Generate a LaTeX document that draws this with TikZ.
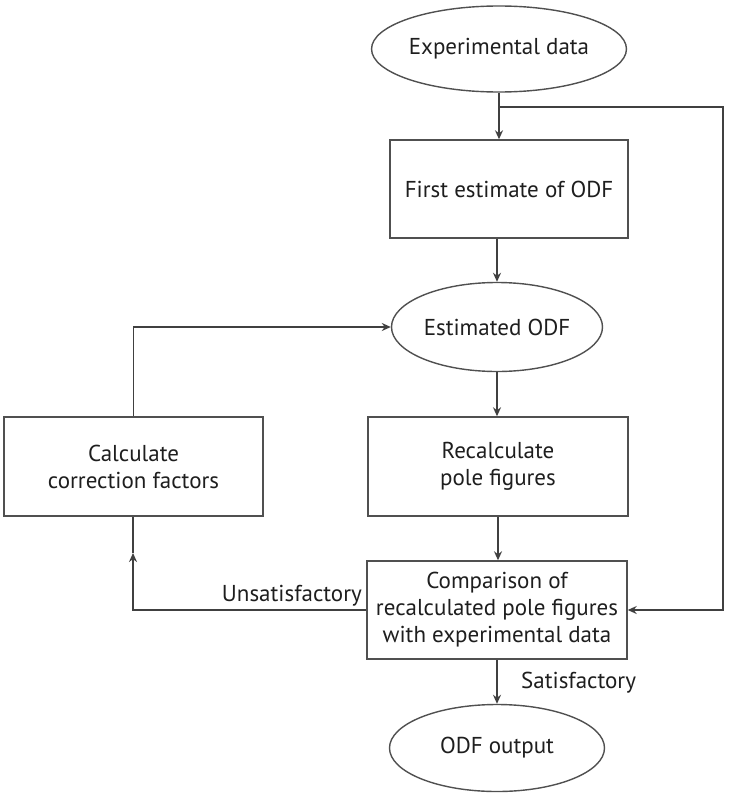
\documentclass[tikz,border=0pt]{standalone}
\usepackage{fontspec}
\setmainfont{PT Sans}
\usetikzlibrary{shapes.geometric,arrows.meta}
\definecolor{txt}{HTML}{1E1E1E}
\definecolor{ln}{HTML}{404040}
\definecolor{bx}{HTML}{505050}
\begin{document}
\begin{tikzpicture}[x=1pt,y=-1pt,
  font=\fontsize{23}{27}\selectfont, text=txt,
  oval/.style={ellipse,draw=bx,line width=1.4pt,inner sep=0pt,align=center},
  stepbox/.style={rectangle,draw=bx,line width=1.4pt,inner sep=0pt,align=center},
  conn/.style={draw=ln,line width=1.9pt},
  arr/.style={conn,-{Stealth[length=9pt,width=8pt]}}]
\useasboundingbox (0,0) rectangle (729,795);
\node[oval,minimum width=204pt,minimum height=86pt] (exp) at (499,49) {Experimental data};
\node[stepbox,minimum width=238pt,minimum height=98pt] (fe) at (509,189) {First estimate of ODF};
\node[oval,minimum width=211pt,minimum height=89pt] (est) at (497,327) {Estimated ODF};
\node[stepbox,minimum width=260pt,minimum height=99pt] (rec) at (498,466.5) {Recalculate\\pole figures};
\node[stepbox,minimum width=259pt,minimum height=99pt] (calc) at (133.5,466.5) {Calculate\\correction factors};
\node[stepbox,minimum width=260pt,minimum height=98pt] (cmp) at (497,610) {Comparison of\\recalculated pole figures\\with experimental data};
\node[oval,minimum width=215pt,minimum height=87pt] (out) at (497,748) {ODF output};
\node[anchor=south east,inner sep=0pt] (uns) at (362,606) {Unsatisfactory};
\node[anchor=west,inner sep=0pt] (sat) at (521,683) {Satisfactory};
\coordinate (j) at (499,107);
\coordinate (r) at (723,107);
\coordinate (lb) at (133,610);
\coordinate (mid) at (133,553);
\draw[arr] (exp.south) -- (exp.south |- fe.north);
\draw[arr] (j) -- (r) |- (cmp.east);
\draw[arr] (fe.south -| est.north) -- (est.north);
\draw[arr] (est.south) -- (est.south |- rec.north);
\draw[arr] (rec.south) -- (rec.south |- cmp.north);
\draw[arr] (cmp.south) -- (out.north);
\draw[arr] (cmp.west) -- (lb) -- (mid);
\draw[conn] (mid) -- (lb |- calc.south);
\draw[arr] (calc.north) |- (est.west);
\end{tikzpicture}
\end{document}
